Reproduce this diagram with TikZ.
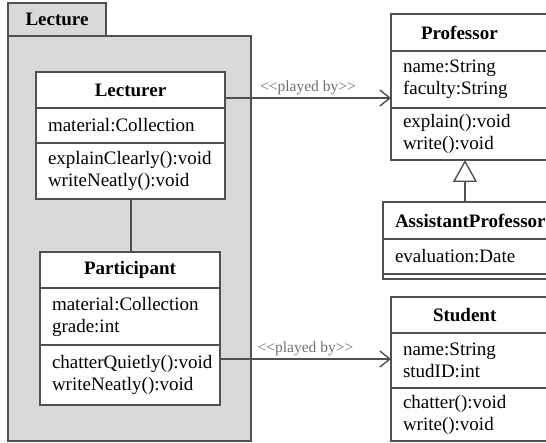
\documentclass[tikz,border=0pt]{standalone}
\usepackage{fontspec}
\setmainfont{Liberation Serif}
\usetikzlibrary{arrows.meta}
\definecolor{linegray}{RGB}{80,80,80}
\definecolor{labelgray}{RGB}{112,112,112}
\definecolor{pkggray}{RGB}{217,217,217}

\begin{document}
\begin{tikzpicture}[x=1pt, y=-1pt,
  font=\fontsize{19}{22}\selectfont,
  box/.style={draw=linegray, line width=1.4pt, fill=white, outer sep=0pt,
    inner xsep=12pt, inner ysep=2pt, anchor=north west},
  titlebox/.style={box, font=\fontsize{19}{22}\selectfont\bfseries},
  partbox/.style={box, align=left},
  pkgbox/.style={box, fill=pkggray},
  assoc/.style={draw=linegray, line width=1.6pt},
  played/.style={assoc, line width=1.4pt, -{Straight Barb[length=10pt, width=16pt, line width=1.4pt]}},
  playedlabel/.style={midway, above, inner sep=2pt, text=labelgray,
    font=\fontsize{15.5}{18}\selectfont},
  generalize/.style={assoc, line width=1.4pt, -{Triangle[open, length=22pt, width=24pt, fill=white]}}]
  \useasboundingbox (0,0) rectangle (546,443);
  \clip (0,0) rectangle (546,443);

  \node[pkgbox, font=\fontsize{19}{22}\selectfont\bfseries, minimum width=98, minimum height=33] (lecture-tab) at (8,3) {Lecture};
  \node[pkgbox, minimum width=243, minimum height=405] (lecture) at (8,36) {};

  \node[titlebox, minimum width=189, minimum height=36] (lecturer-t) at (36,72) {Lecturer};
  \node[partbox, text width=165, minimum height=35] (lecturer-a) at (lecturer-t.south west) {material:Collection};
  \node[partbox, text width=165, minimum height=56] (lecturer-m) at (lecturer-a.south west) {explainClearly():void\\writeNeatly():void};

  \node[titlebox, minimum width=180, minimum height=36] (participant-t) at (40,252) {Participant};
  \node[partbox, text width=156, minimum height=57] (participant-a) at (participant-t.south west) {material:Collection\\grade:int};
  \node[partbox, text width=156, minimum height=60] (participant-m) at (participant-a.south west) {chatterQuietly():void\\writeNeatly():void};

  \node[titlebox, text width=146, align=left, minimum height=37] (professor-t) at (391,14) {\hspace*{18pt}Professor};
  \node[partbox, text width=146, minimum height=57] (professor-a) at (professor-t.south west) {name:String\\faculty:String};
  \node[partbox, text width=146, minimum height=52] (professor-m) at (professor-a.south west) {explain():void\\write():void};

  \node[titlebox, text width=154, align=left, minimum height=37] (assistant-t) at (383,202) {AssistantProfessor};
  \node[partbox, text width=154, minimum height=35] (assistant-a) at (assistant-t.south west) {evaluation:Date};
  \node[partbox, text width=154, minimum height=5] (assistant-m) at (assistant-a.south west) {};

  \node[titlebox, text width=146, align=left, minimum height=36] (student-t) at (391,297) {\hspace*{30pt}Student};
  \node[partbox, text width=146, minimum height=55] (student-a) at (student-t.south west) {name:String\\studID:int};
  \node[partbox, text width=146, minimum height=53] (student-m) at (student-a.south west) {chatter():void\\write():void};

  \coordinate (lecturer-down) at ([xshift=0.5pt]lecturer-m.south);
  \draw[assoc] (lecturer-down) -- (lecturer-down |- participant-t.north);
  \coordinate (lecturer-out) at ([yshift=-8pt]lecturer-t.east);
  \draw[played] (lecturer-out) -- (lecturer-out -| professor-a.west) node[playedlabel] {<\kern0pt<played by>\kern0pt>};
  \coordinate (participant-out) at ([yshift=16pt]participant-m.east);
  \draw[played] (participant-out) -- (participant-out -| student-a.west) node[playedlabel] {<\kern0pt<played by>\kern0pt>};
  \coordinate (gen) at ([xshift=82pt]assistant-t.north west);
  \draw[generalize] (gen) -- (gen |- professor-m.south);
\end{tikzpicture}
\end{document}
